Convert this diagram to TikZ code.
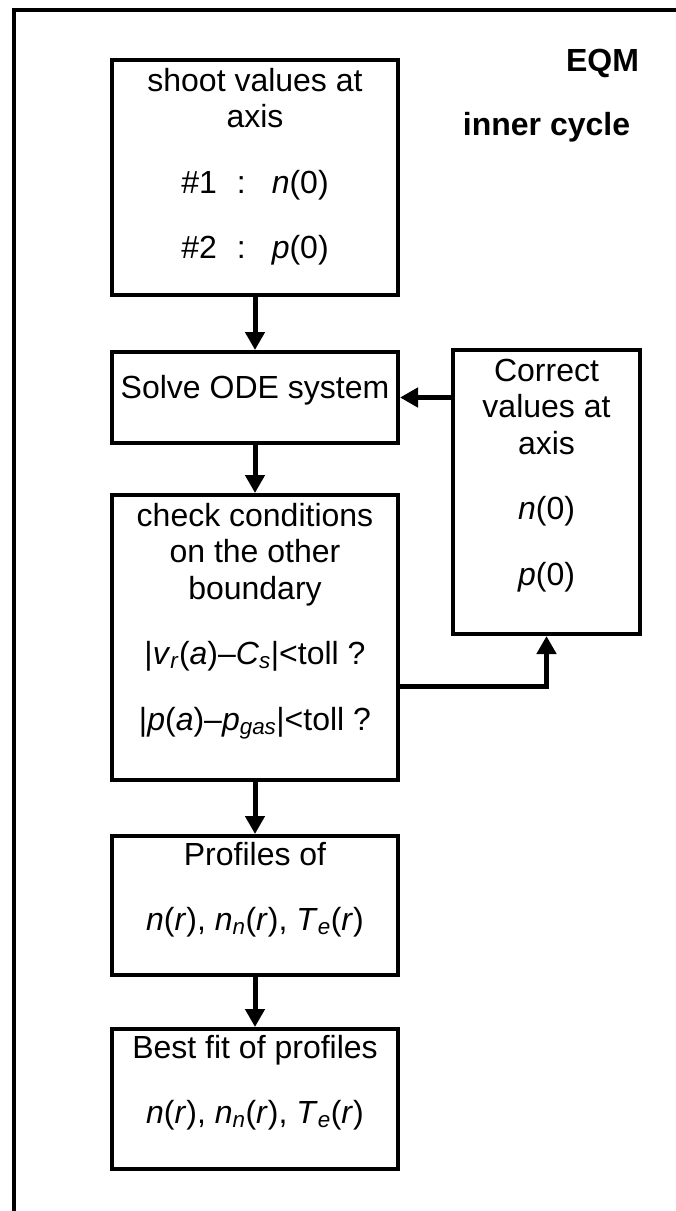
\documentclass[tikz,border=0pt]{standalone}
\usepackage{fontspec}
\setmainfont{Liberation Sans}
\usetikzlibrary{arrows.meta,calc}

\tikzset{
    box/.style={draw, line width=4pt, minimum width=286pt, inner sep=0pt},
    boxtext/.style={anchor=north, align=center, inner sep=0pt, font=\fontsize{32}{36.5}\selectfont},
    title/.style={anchor=base, inner sep=0pt, font=\fontsize{32}{36.5}\selectfont\bfseries},
    flow/.style={line width=5pt, -{Triangle[width=19pt,length=18pt]}},
}

\begin{document}
\begin{tikzpicture}[x=1pt,y=-1pt]
    \useasboundingbox (0,0) rectangle (676,1211);
    \draw[line width=4pt] (680,10) -- (14,10) -- (14,1215); % outer frame, cut off right and bottom

    % titles
    \node[title] (eqm) at (602.5,71.7) {EQM};
    \node[title] (inner) at (546.5,135) {inner cycle};

    % boxes of the main column
    \node[box, minimum height=235pt] (shoot) at (255,177.5) {};
    \node[box, minimum height=91pt] (solve) at (255,397.5) {};
    \node[box, minimum height=285pt] (check) at (255,637.5) {};
    \node[box, minimum height=139pt] (profiles) at (255,905.5) {};
    \node[box, minimum height=140pt] (bestfit) at (255,1099) {};
    % box of the correction loop
    \node[box, minimum width=187pt, minimum height=284pt] (correct) at (546.5,492) {};

    % texts, hung from the top of each box
    \node[boxtext] (shoot-txt) at ([yshift=-10pt]shoot.north)
        {shoot values at\\axis\\[29pt]\#1\hspace{20pt}:\hspace{26pt}\textit{n}(0)\\[29pt]\#2\hspace{20pt}:\hspace{26pt}\textit{p}(0)};
    \node[boxtext] (solve-txt) at ([yshift=-25pt]solve.north) {Solve ODE system};
    \node[boxtext] (check-txt) at ([yshift=-10pt]check.north)
        {check conditions\\on the other\\boundary\\[29pt]%
         |\textit{v}\textsubscript{\textit{r}}(\textit{a})–\textit{C}\textsubscript{\textit{s}}|<toll ?\\[29pt]%
         |\textit{p}(\textit{a})–\textit{p}\textsubscript{\textit{gas}}|<toll ?};
    \node[boxtext] (profiles-txt) at ([yshift=-8pt]profiles.north)
        {Profiles of\\[29pt]\textit{n}(\textit{r}), \textit{n}\textsubscript{\textit{n}}(\textit{r}), \textit{T}\textsubscript{\textit{e}}(\textit{r})};
    \node[boxtext] (bestfit-txt) at ([yshift=-8pt]bestfit.north)
        {Best fit of profiles\\[29pt]\textit{n}(\textit{r}), \textit{n}\textsubscript{\textit{n}}(\textit{r}), \textit{T}\textsubscript{\textit{e}}(\textit{r})};
    \node[boxtext] (correct-txt) at ([yshift=-10.7pt]correct.north)
        {Correct\\values at\\axis\\[29pt]\textit{n}(0)\\[29pt]\textit{p}(0)};

    % flow arrows
    \draw[flow] (shoot) -- (solve);
    \draw[flow] (solve) -- (check);
    \draw[flow] (check) -- (profiles);
    \draw[flow] (profiles) -- (bestfit);
    % loop back through the correction
    \coordinate (loop) at ([yshift=-48.5pt]check.east);
    \draw[flow] (loop) -| (correct.south);
    \draw[flow] (correct.west |- solve.east) -- (solve.east);
\end{tikzpicture}
\end{document}
